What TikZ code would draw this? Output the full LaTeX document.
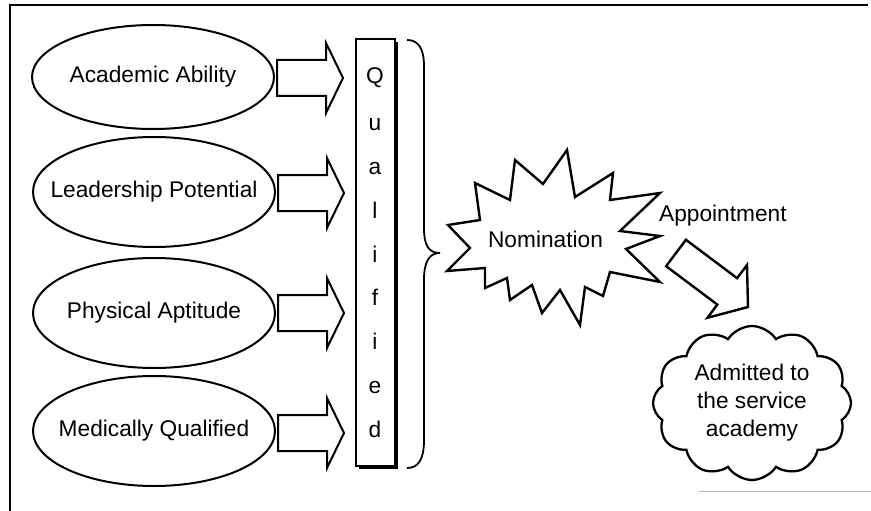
\documentclass[tikz,border=0pt]{standalone}
\usepackage{fontspec}
\setmainfont{Liberation Sans}
\usetikzlibrary{shapes.geometric,shapes.symbols}
\begin{document}
\begin{tikzpicture}[x=1pt,y=-1pt,
  lbl/.style={font=\fontsize{22.7}{28}\selectfont},
  oval/.style={ellipse,draw,line width=2pt,minimum width=242pt,minimum height=110pt,inner sep=0pt,lbl},
  blk/.style={draw,line width=2pt,fill=white,line join=miter},
  letter/.style={lbl,anchor=base,inner sep=0pt},
  hblock/.pic={\draw[blk] (0,-18) -- (49,-18) -- (49,-35) -- (66,0) -- (49,35) -- (49,18) -- (0,18) -- cycle;},
  apparrow/.pic={\draw[blk,line width=2.4pt] (0,-16.5) -- (64,-16.5) -- (64,-33) -- (90,0) -- (64,33) -- (64,16.5) -- (0,16.5) -- cycle;}
]
\useasboundingbox (0,0) rectangle (871,511);
% frame
\draw[line width=1.3pt] (10,511) -- (10,5) -- (868,5);
\draw[gray!60,line width=1pt] (699,491) -- (871,491);
% ovals
\node[oval,minimum height=104pt] (aa) at (153,77) {\makebox[0pt][c]{Academic Ability}};
\node[oval] (lp) at (154,192) {\makebox[0pt][c]{Leadership Potential}};
\node[oval] (pa) at (154,313) {\makebox[0pt][c]{Physical Aptitude}};
\node[oval] (mq) at (154,431) {\makebox[0pt][c]{Medically Qualified}};
% block arrows
\path (aa.east) ++(2,1) pic {hblock};
\path (lp.east) ++(2,1) pic {hblock};
\path (pa.east) ++(2,0) pic {hblock};
\path (mq.east) ++(2,2) pic {hblock};
% qualified box
\fill (359,42) rectangle (398,469);
\node[draw,line width=1.8pt,fill=white,minimum width=39pt,minimum height=427pt,inner sep=0pt] (q) at (375.5,252.5) {};
\foreach \ch/\yy [count=\i] in {Q/84,u/130,a/174,l/218,i/262,f/305,i/349,e/393,d/437}
  \node[letter] (q\i) at (375,\yy) {\ch};
% brace
\draw[line width=1.8pt] (407,40) .. controls (418,40) and (424,48) .. (424,66)
  -- (424,228) .. controls (424,246) and (429,253) .. (440,253)
  .. controls (429,253) and (424,262) .. (424,280)
  -- (424,440) .. controls (424,460) and (418,468) .. (407,468);
% starburst
\draw[line width=2.4pt,line join=miter,fill=white]
  (448,225) -- (480,220) -- (475,183) -- (510,200) -- (515,160) -- (543,184)
  -- (567,150) -- (575,197) -- (613,173) -- (610,200) -- (660,193) -- (620,231)
  -- (660,236) -- (626,249) -- (660,282) -- (610,272) -- (603,296) -- (585,287)
  -- (580,325) -- (560,290) -- (542,313) -- (532,285) -- (510,300) -- (507,278)
  -- (485,288) -- (485,268) -- (447,271) -- (470,248) -- cycle;
\node[lbl,anchor=base,inner sep=0pt] (nom) at (545.5,247) {Nomination};
% appointment
\node[lbl,anchor=base west,inner sep=0pt] (app) at (659,221) {Appointment};
\coordinate (appstart) at (676,253);
\path (appstart) pic[rotate=-36.87] {apparrow};
% cloud
\node[cloud,draw,line width=2.3pt,cloud puffs=12,cloud puff arc=115,aspect=1.3,
  minimum width=198pt,minimum height=154pt,align=center,lbl,inner sep=0pt] (adm) at (752,403)
  {Admitted to\\the service\\academy};
\end{tikzpicture}
\end{document}
